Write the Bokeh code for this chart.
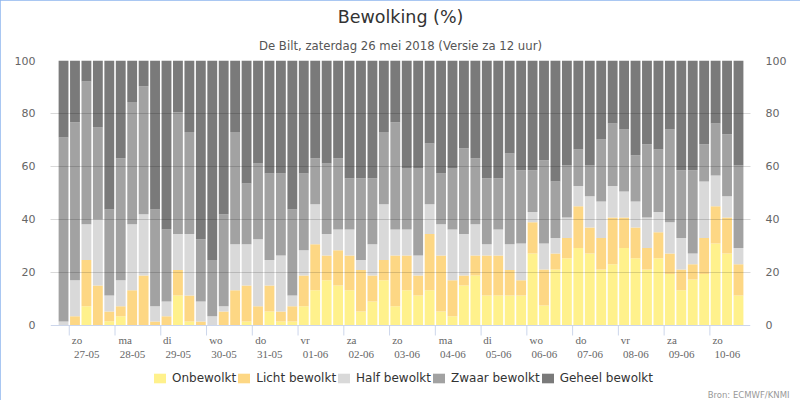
import math
from bokeh.plotting import figure
from bokeh.models import (Range1d, FixedTicker, LinearAxis, Legend, LegendItem,
                          Title, ColumnDataSource, LabelSet, Span)
from bokeh.embed import file_html
from bokeh.resources import INLINE

title_text = "Bewolking (%)"
subtitle_text = "De Bilt, zaterdag 26 mei 2018 (Versie za 12 uur)"
credit_text = "Bron: ECMWF/KNMI"

day_names = ["zo", "ma", "di", "wo", "do", "vr", "za", "zo", "ma", "di", "wo", "do", "vr", "za", "zo"]
day_dates = ["27-05", "28-05", "29-05", "30-05", "31-05", "01-06", "02-06", "03-06",
             "04-06", "05-06", "06-06", "07-06", "08-06", "09-06", "10-06"]
y_ticks = [0, 20, 40, 60, 80, 100]

series_names = ["Onbewolkt", "Licht bewolkt", "Half bewolkt", "Zwaar bewolkt", "Geheel bewolkt"]
series_colors = ["#fff18c", "#fdd784", "#d9d9d9", "#a2a2a2", "#7a7a7a"]

# 60 forecast steps (6-hourly), percentages per category
onbewolkt = [0, 0, 7.3, 0, 1.6, 3.5, 0, 0, 0, 0, 11.3, 1.5, 0, 0, 0, 0, 1.5, 0, 5.3, 1.5,
             1.5, 7.3, 13.3, 17.1, 15.1, 13.3, 5.3, 9.1, 17.1, 7.3, 13.3, 11.3, 13.3, 5.3, 3.5, 15.1, 18.9, 11.3, 11.3, 11.3,
             11.3, 27.2, 7.5, 21.1, 25.4, 29.2, 27.2, 21.1, 23.1, 29.2, 25.4, 21.1, 25.4, 19.4, 13.3, 17.4, 19.4, 30.9, 27.2, 11.3]
licht_bewolkt = [0, 3.5, 17.4, 15.1, 3.7, 3.8, 13.3, 18.9, 1.5, 3.5, 9.6, 9.8, 1.5, 0, 5.3, 13.3, 13.6, 7.3, 9.8, 3.8,
                 5.8, 11.6, 17.4, 9.3, 13.3, 13.1, 15.6, 9.8, 7.6, 19.1, 13.1, 7.6, 21.2, 21.1, 13.6, 3.8, 7.5, 15.1, 15.1, 9.6,
                 5.8, 11.8, 13.6, 6.1, 7.6, 15.8, 9.8, 11.9, 17.7, 11.6, 11.6, 8.1, 9.8, 7.8, 7.8, 5.7, 13.6, 14.1, 13.6, 11.8]
half_bewolkt = [1.5, 13.6, 13.5, 24.9, 6.0, 9.8, 24.9, 23.1, 5.8, 5.6, 13.6, 23.2, 7.6, 3.5, 2.0, 17.4, 15.6, 25.2, 9.6, 21.1,
                4.0, 9.5, 15.1, 8.1, 7.8, 9.8, 3.8, 11.8, 21.1, 9.8, 9.8, 7.5, 11.3, 11.8, 19.1, 15.6, 11.8, 4.3, 9.8, 9.8,
                13.8, 3.8, 9.8, 5.8, 7.8, 7.6, 11.8, 13.8, 11.8, 9.8, 9.8, 11.6, 7.6, 11.8, 11.9, 4.1, 21.3, 11.6, 8.0, 6.1]
zwaar_bewolkt = [69.4, 59.6, 53.9, 34.7, 32.5, 46.0, 46.1, 48.3, 36.5, 27.1, 46.0, 38.5, 23.4, 21.2, 34.7, 42.3, 22.9, 28.6, 32.7, 31.0,
                 32.5, 29.0, 17.3, 26.6, 26.9, 19.4, 30.9, 24.9, 27.2, 40.5, 23.2, 33.0, 22.9, 19.2, 23.2, 32.4, 24.9, 24.9, 19.4, 34.2,
                 27.7, 15.8, 31.5, 21.3, 19.6, 13.8, 11.6, 23.4, 23.6, 23.4, 17.4, 27.6, 23.6, 35.0, 25.6, 31.4, 14.1, 19.6, 23.4, 31.2]
geheel_bewolkt = [29.1, 23.3, 7.9, 25.3, 56.2, 36.9, 15.7, 9.7, 56.2, 63.8, 19.5, 27.0, 67.5, 75.3, 58.0, 27.0, 46.4, 38.9, 42.6, 42.6,
                  56.2, 42.6, 36.9, 38.9, 36.9, 44.4, 44.4, 44.4, 27.0, 23.3, 40.6, 40.6, 31.3, 42.6, 40.6, 33.1, 36.9, 44.4, 44.4, 35.1,
                  41.4, 41.4, 37.6, 45.7, 39.6, 33.6, 39.6, 29.8, 23.8, 26.0, 35.8, 31.6, 33.6, 26.0, 41.4, 41.4, 31.6, 23.8, 27.8, 39.6]

FONT = "DejaVu Sans"
LABEL_PX = 11
# DejaVu Sans advance widths (em) of the glyphs used in the day labels
ADV = {"0": 0.636, "1": 0.636, "2": 0.636, "3": 0.636, "4": 0.636, "5": 0.636, "6": 0.636,
       "7": 0.636, "8": 0.636, "9": 0.636, "-": 0.361, "a": 0.613, "d": 0.635, "i": 0.278,
       "m": 0.974, "o": 0.612, "r": 0.411, "v": 0.592, "w": 0.818, "z": 0.525}


def half_width(s):
    return 0.5 * LABEL_PX * sum(ADV.get(c, 0.6) for c in s)


keys = ["onbewolkt", "licht", "half", "zwaar", "geheel"]
steps = list(range(len(onbewolkt)))
source = ColumnDataSource(dict(step=steps, onbewolkt=onbewolkt, licht=licht_bewolkt,
                               half=half_bewolkt, zwaar=zwaar_bewolkt, geheel=geheel_bewolkt))

# frame: x 50..750, y 60..387 ; value 0 sits 62 px above frame bottom (the x-axis strip)
p = figure(width=800, height=400, output_backend="svg", toolbar_location=None, title=None,
           x_axis_location=None,
           x_range=Range1d(-1.14, 60.05), y_range=Range1d(-23.4, 100),
           min_border_left=50, min_border_right=50, min_border_top=60, min_border_bottom=13)
p.outline_line_color = None
p.background_fill_color = "white"
p.border_fill_color = "white"
p.styles = {"outline": "1px solid #8cb4ee", "outline-offset": "-1px"}

renderers = p.vbar_stack(keys, x="step", width=0.86, fill_color=series_colors,
                         line_color=None, source=source)

# grid drawn over bars, semi-transparent
p.xgrid.visible = False
p.ygrid.ticker = FixedTicker(ticks=y_ticks[1:])
p.ygrid.grid_line_color = "black"
p.ygrid.grid_line_alpha = 0.15
p.ygrid.level = "overlay"

# x axis line, ticks and left-aligned two-line day labels
p.add_layout(Span(location=0, dimension="width", line_color="#ccd6eb", line_width=1, level="overlay"))
day_ticks = [0.5 + 4 * k for k in range(len(day_names))]
day_source = ColumnDataSource(dict(x=day_ticks, y=[0] * len(day_ticks),
                                   dayname=day_names, daydate=day_dates,
                                   name_off=[1.5 + half_width(s) for s in day_names],
                                   date_off=[1.5 + half_width(s) for s in day_dates]))
p.ray(x="x", y="y", length=10, length_units="screen", angle=-math.pi / 2,
      line_color="#ccd6eb", line_width=1, source=day_source)
for col, xoff, yoff in (("dayname", "name_off", -19), ("daydate", "date_off", -32.5)):
    p.add_layout(LabelSet(x="x", y="y", text=col, source=day_source, x_offset=xoff, y_offset=yoff,
                          text_align="center", text_baseline="alphabetic", text_font=FONT,
                          text_font_size=f"{LABEL_PX}px", text_color="#666666"))


def style_y(ax):
    ax.ticker = FixedTicker(ticks=y_ticks)
    ax.axis_line_color = None
    ax.major_tick_line_color = None
    ax.minor_tick_line_color = None
    ax.major_tick_out = 0
    ax.major_tick_in = 0
    ax.major_label_standoff = 15
    ax.major_label_text_font = FONT
    ax.major_label_text_font_size = "11px"
    ax.major_label_text_color = "#666666"


style_y(p.yaxis[0])
ry = LinearAxis()
style_y(ry)
p.add_layout(ry, "right")

# titles
p.add_layout(Title(text=subtitle_text, align="center", text_font=FONT, text_font_size="11.7px",
                   text_color="#555555", text_font_style="normal", standoff=16), "above")
p.add_layout(Title(text=title_text, align="center", text_font=FONT, text_font_size="17.5px",
                   text_color="#333333", text_font_style="normal", standoff=3), "above")

legend = Legend(items=[LegendItem(label=n, renderers=[r]) for n, r in zip(series_names, renderers)],
                orientation="horizontal", location=(102, 2), border_line_color=None,
                background_fill_alpha=0, label_text_font=FONT, label_text_font_size="12px",
                label_text_color="#333333", glyph_width=15, glyph_height=12, label_standoff=5,
                spacing=0, padding=0, margin=0, label_height=14)
p.add_layout(legend)

p.add_layout(Title(text=credit_text, align="right", offset=-39, text_font=FONT, text_font_size="8.5px",
                   text_color="#999999", text_font_style="normal", standoff=0), "below")

open("out.html", "w").write(file_html(p, INLINE))
